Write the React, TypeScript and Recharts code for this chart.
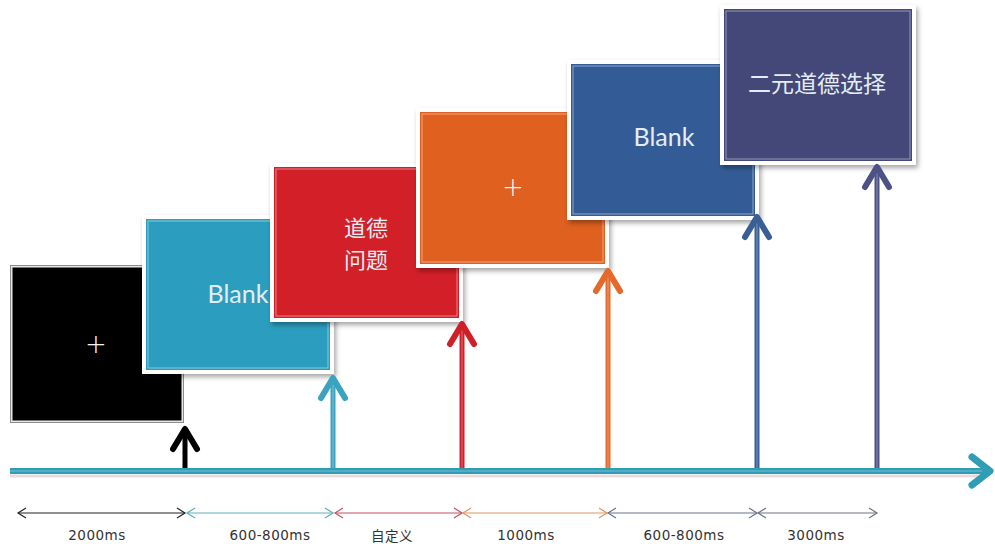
import { ComposedChart, XAxis, YAxis, ReferenceArea, ReferenceLine, ReferenceDot } from 'recharts'

const W = 995
const H = 544

// stimulus screens, left to right (diagram units, y grows downward)
const screenText = [['+'], ['Blank'], ['道德', '问题'], ['+'], ['Blank'], ['二元道德选择']]
const screenLeft = [10, 142, 270, 416, 567, 720]
const screenRight = [184, 334, 463, 609, 759, 916]
const screenTop = [265, 215, 163, 108, 60, 5]
const screenBottom = [423, 374, 322, 268, 220, 165]
const screenTextX = [96, 238, 366, 513, 664, 817]
const screenTextY = [344, 293, 242, 187, 136, 82]
const screenColors = ['#000000', '#2b9dbf', '#d31f27', '#e0601f', '#335c96', '#434878']

// onset arrows rising from the time line
const onsetX = [185, 333, 462, 608, 757, 877]
const onsetTip = [426, 375, 321, 268, 214, 164]
const onsetColors = ['#000000', '#3aa3c0', '#cf2029', '#e4692a', '#3a5f97', '#4c5285']

// durations along the bottom
const durationLabels = ['2000ms', '600-800ms', '自定义', '1000ms', '600-800ms', '3000ms']
const durationStart = [18, 187, 335, 463, 608, 758]
const durationEnd = [185, 333, 462, 607, 757, 877]
const durationLabelX = [97, 270, 392, 526, 684, 816]
const durationColors = ['#222222', '#5fb1b8', '#c2505f', '#e29464', '#6c7390', '#6f7480']

const axisY = 471
const axisStart = 10
const axisEnd = 990
const durationY = 513
const durationLabelY = 535

const cjk = '"Noto Sans CJK SC", "Noto Sans", sans-serif'

const screenShape = (i: number) => (p: any) => {
  const { x, y, width, height } = p
  const fill = screenColors[i]
  if (i === 0) {
    return (
      <g>
        <rect x={x} y={y} width={width} height={height} fill="#8c8c8c" />
        <rect x={x + 1} y={y + 1} width={width - 2} height={height - 2} fill="#e8e8e8" />
        <rect x={x + 2.5} y={y + 2.5} width={width - 5} height={height - 5} fill={fill} />
      </g>
    )
  }
  const f = 4
  return (
    <g>
      <defs>
        <filter id={`shadow-${i}`} x="-10%" y="-10%" width="130%" height="130%">
          <feDropShadow dx="2" dy="3" stdDeviation="2.5" floodColor="#000" floodOpacity="0.35" />
        </filter>
      </defs>
      <rect x={x} y={y} width={width} height={height} fill="#ffffff" filter={`url(#shadow-${i})`} />
      <rect x={x + f} y={y + f} width={width - 2 * f} height={height - 2 * f} fill={fill} />
      <rect
        x={x + f + 2}
        y={y + f + 2}
        width={width - 2 * f - 4}
        height={height - 2 * f - 4}
        fill="none"
        stroke="rgba(255,255,255,0.45)"
        strokeWidth={1}
      />
    </g>
  )
}

// multi-line labels go in one <text> with tspans
const screenLabelShape = (i: number) => (p: any) => {
  const lines = screenText[i]
  const { cx, cy } = p
  const isPlus = lines[0] === '+'
  const isLatin = lines[0] === 'Blank'
  const size = isPlus ? 26 : isLatin ? 25 : lines.length > 1 ? 22 : 23
  const lh = 32
  const y0 = cy - ((lines.length - 1) * lh) / 2
  return (
    <text
      x={cx}
      y={y0}
      textAnchor="middle"
      dominantBaseline="central"
      fill={isPlus ? '#f4f4f4' : '#e4edf3'}
      fontSize={size}
      fontWeight={isPlus ? 200 : 400}
      fontFamily={isLatin ? 'Lato, "Open Sans", sans-serif' : isPlus ? '"DejaVu Sans", sans-serif' : cjk}
    >
      {lines.map((t, k) => (
        <tspan key={k} x={cx} y={y0 + k * lh}>
          {t}
        </tspan>
      ))}
    </text>
  )
}

const onsetShape = (i: number) => (p: any) => {
  const x = p.x1
  const top = Math.min(p.y1, p.y2)
  const bottom = Math.max(p.y1, p.y2)
  const c = onsetColors[i]
  return (
    <g>
      <line x1={x} y1={bottom} x2={x} y2={top + 2} stroke={c} strokeWidth={5} />
      {i > 0 && (
        <line x1={x} y1={bottom} x2={x} y2={top + 6} stroke="rgba(255,255,255,0.35)" strokeWidth={1} />
      )}
      <polyline
        points={`${x - 12},${top + 23} ${x},${top + 3} ${x + 12},${top + 23}`}
        fill="none"
        stroke={c}
        strokeWidth={6}
        strokeLinecap="round"
        strokeLinejoin="round"
      />
    </g>
  )
}

const axisShape = (p: any) => {
  const y = p.y1
  const x0 = Math.min(p.x1, p.x2)
  const x1 = Math.max(p.x1, p.x2)
  return (
    <g>
      <line x1={x0} y1={y + 5} x2={x1 - 6} y2={y + 5} stroke="rgba(190,150,160,0.35)" strokeWidth={3} />
      <line x1={x0} y1={y} x2={x1 - 4} y2={y} stroke="#2f9db5" strokeWidth={6} />
      <line x1={x0} y1={y} x2={x1 - 8} y2={y} stroke="rgba(255,255,255,0.35)" strokeWidth={1.2} />
      <polyline
        points={`${x1 - 18},${y - 14} ${x1},${y} ${x1 - 18},${y + 14}`}
        fill="none"
        stroke="#2f9db5"
        strokeWidth={7}
        strokeLinecap="round"
        strokeLinejoin="round"
      />
    </g>
  )
}

const durationShape = (i: number) => (p: any) => {
  const y = p.y1
  const a = Math.min(p.x1, p.x2)
  const b = Math.max(p.x1, p.x2)
  const c = durationColors[i]
  return (
    <g fill="none" stroke={c} strokeWidth={1.2}>
      <line x1={a} y1={y} x2={b} y2={y} />
      <polyline points={`${a + 8},${y - 5} ${a},${y} ${a + 8},${y + 5}`} />
      <polyline points={`${b - 8},${y - 5} ${b},${y} ${b - 8},${y + 5}`} />
    </g>
  )
}

const durationLabelShape = (i: number) => (p: any) => (
  <text
    x={p.cx}
    y={p.cy}
    textAnchor="middle"
    dominantBaseline="central"
    fill="#333333"
    fontSize={13.5}
    fontFamily={i === 2 ? cjk : '"DejaVu Sans", sans-serif'}
    letterSpacing={0.5}
  >
    {durationLabels[i]}
  </text>
)

export default function App() {
  return (
    <div style={{ position: 'absolute', left: 0, top: 0, width: W, height: H, background: '#ffffff' }}>
      <ComposedChart width={W} height={H} data={[]} margin={{ top: 0, right: 0, bottom: 0, left: 0 }}>
        <XAxis type="number" dataKey="x" domain={[0, W]} hide allowDataOverflow />
        <YAxis type="number" dataKey="y" domain={[0, H]} reversed hide allowDataOverflow />
        {screenLeft.map((l, i) => (
          <ReferenceArea
            key={`s${i}`}
            x1={l}
            x2={screenRight[i]}
            y1={screenTop[i]}
            y2={screenBottom[i]}
            ifOverflow="visible"
            shape={screenShape(i)}
          />
        ))}
        {onsetX.map((x, i) => (
          <ReferenceLine
            key={`o${i}`}
            segment={[{ x, y: axisY }, { x, y: onsetTip[i] }]}
            ifOverflow="visible"
            shape={onsetShape(i)}
          />
        ))}
        <ReferenceLine
          segment={[{ x: axisStart, y: axisY }, { x: axisEnd, y: axisY }]}
          ifOverflow="visible"
          shape={axisShape}
        />
        {durationStart.map((s, i) => (
          <ReferenceLine
            key={`d${i}`}
            segment={[{ x: s, y: durationY }, { x: durationEnd[i], y: durationY }]}
            ifOverflow="visible"
            shape={durationShape(i)}
          />
        ))}
        {screenTextX.map((x, i) => (
          <ReferenceDot key={`t${i}`} x={x} y={screenTextY[i]} r={0} ifOverflow="visible" shape={screenLabelShape(i)} />
        ))}
        {durationLabelX.map((x, i) => (
          <ReferenceDot key={`l${i}`} x={x} y={durationLabelY} r={0} ifOverflow="visible" shape={durationLabelShape(i)} />
        ))}
      </ComposedChart>
    </div>
  )
}
